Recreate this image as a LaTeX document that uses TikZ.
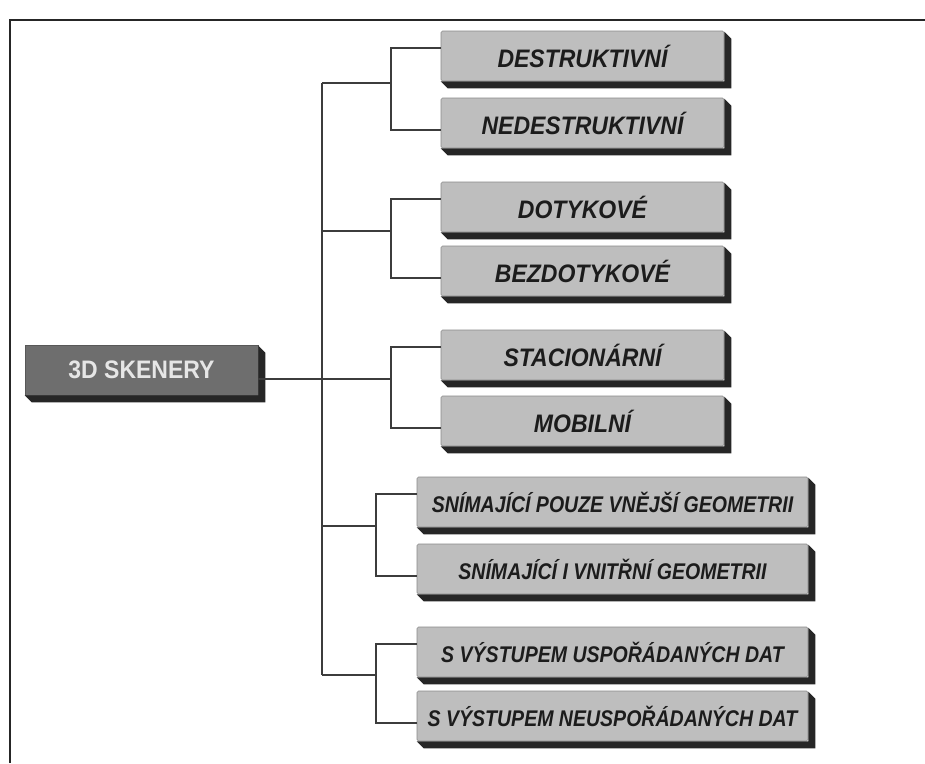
\documentclass[tikz,border=0pt]{standalone}
\usepackage{fontspec}
\usepackage{graphicx}
\setmainfont{Liberation Sans}
\definecolor{facegray}{HTML}{BEBEBE}
\definecolor{faceline}{HTML}{8A8A8A}
\definecolor{extr}{HTML}{262626}
\definecolor{rootface}{HTML}{6E6E6E}
\definecolor{roottext}{HTML}{E6E6E6}
\definecolor{linegray}{HTML}{3C3C3C}
\definecolor{textdark}{HTML}{1C1C1C}
\newcommand{\uptext}[1]{\scalebox{1}[1.1]{#1}}
\newcommand{\lowtext}[1]{\scalebox{0.93}[1.08]{#1}}
\tikzset{
  catbox/.style={draw=faceline, line width=0.6pt, fill=facegray, rounded corners=1.5pt,
    minimum height=50pt, inner sep=0pt, text=textdark,
    font=\fontsize{23pt}{23pt}\selectfont\bfseries\itshape},
  upperbox/.style={catbox, minimum width=283pt},
  lowerbox/.style={catbox, minimum width=391pt,
    font=\fontsize{21pt}{21pt}\selectfont\bfseries\itshape},
  rootbox/.style={draw=rootface!80!black, line width=0.6pt, fill=rootface, minimum width=233pt,
    minimum height=50pt, inner sep=0pt, text=roottext,
    font=\fontsize{23pt}{23pt}\selectfont\bfseries},
  conn/.style={draw=linegray, line width=1.6pt},
  frameline/.style={draw=black!85, line width=2.4pt},
  extrusion/.style={fill=extr}
}
\begin{document}
\begin{tikzpicture}[x=1pt,y=-1pt]
\useasboundingbox (0,0) rectangle (925,763);
\fill[white] (0,0) rectangle (925,763);
% frame
\coordinate (fb) at (10,763);
\coordinate (fc) at (10,20);
\coordinate (fr) at (925,20);
\draw[frameline] (fb) -- (fc) -- (fr);

% nodes
\node[rootbox]  (root) at (141.5,370) {\uptext{3D SKENERY}};
\node[upperbox] (b1) at (582.5,56)  {\uptext{DESTRUKTIVNÍ}};
\node[upperbox] (b2) at (582.5,123) {\uptext{NEDESTRUKTIVNÍ}};
\node[upperbox] (b3) at (582.5,207) {\uptext{DOTYKOVÉ}};
\node[upperbox] (b4) at (582.5,271) {\uptext{BEZDOTYKOVÉ}};
\node[upperbox] (b5) at (582.5,355) {\uptext{STACIONÁRNÍ}};
\node[upperbox] (b6) at (582.5,421) {\uptext{MOBILNÍ}};
\node[lowerbox] (b7) at (612.5,502) {\lowtext{SNÍMAJÍCÍ POUZE VNĚJŠÍ GEOMETRII}};
\node[lowerbox] (b8) at (612.5,569) {\lowtext{SNÍMAJÍCÍ I VNITŘNÍ GEOMETRII}};
\node[lowerbox] (b9) at (612.5,652) {\lowtext{S VÝSTUPEM USPOŘÁDANÝCH DAT}};
\node[lowerbox] (b10) at (612.5,716) {\lowtext{S VÝSTUPEM NEUSPOŘÁDANÝCH DAT}};

% 3D extrusions
\foreach \n in {root,b1,b2,b3,b4,b5,b6,b7,b8,b9,b10}{
  \fill[extrusion] ([yshift=-1pt]\n.north east) -- ++(7,7) -- ([shift={(7pt,-7pt)}]\n.south east)
     -- ([shift={(7pt,-7pt)}]\n.south west) -- (\n.south west) -- (\n.south east) -- cycle;
}

% junction coordinates
\coordinate (t1) at (322,83);
\coordinate (t2) at (322,231);
\coordinate (t4) at (322,526);
\coordinate (t5) at (322,675);
\coordinate (k1) at (391,83);
\coordinate (k2) at (391,231);
\coordinate (k3) at (391,379);
\coordinate (k4) at (376,526);
\coordinate (k5) at (376,675);

% connectors
\draw[conn] (t1) -- (t5);
\draw[conn] (t1) -- (k1);
\draw[conn] (t2) -- (k2);
\draw[conn] ([yshift=-9pt]root.east) -- (k3);
\draw[conn] (t4) -- (k4);
\draw[conn] (t5) -- (k5);
\draw[conn] ([yshift=8pt]b1.west) -| (k1) |- ([yshift=-7pt]b2.west);
\draw[conn] ([yshift=8pt]b3.west) -| (k2) |- ([yshift=-7pt]b4.west);
\draw[conn] ([yshift=8pt]b5.west) -| (k3) |- ([yshift=-7pt]b6.west);
\draw[conn] ([yshift=8pt]b7.west) -| (k4) |- ([yshift=-7pt]b8.west);
\draw[conn] ([yshift=8pt]b9.west) -| (k5) |- ([yshift=-7pt]b10.west);
\end{tikzpicture}
\end{document}
